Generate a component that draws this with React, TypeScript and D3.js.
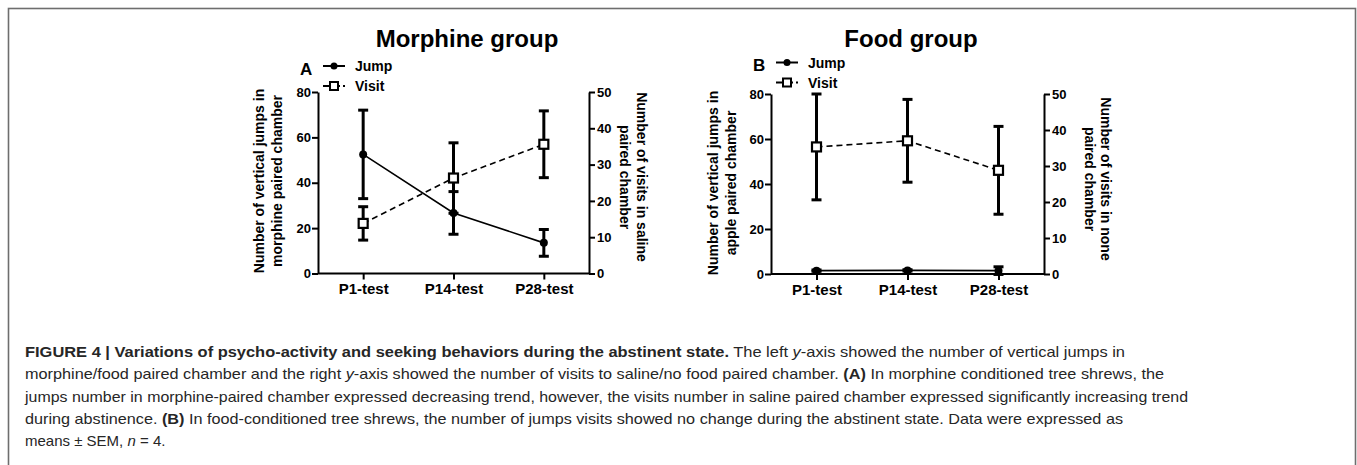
import React, { useRef, useEffect } from "react";
import * as d3 from "d3";

// data
const categories = ["P1-test", "P14-test", "P28-test"];
const leftTicks = [0, 20, 40, 60, 80];
const rightTicks = [0, 10, 20, 30, 40, 50];

const morphineJump = [52.5, 26.7, 13.5];
const morphineJumpSem = [19.5, 9.4, 5.9];
const morphineVisit = [13.8, 26.3, 35.6];
const morphineVisitSem = [4.6, 9.7, 9.2];

const foodJump = [1.5, 1.6, 1.5];
const foodJumpSem = [0.3, 0.3, 1.7];
const foodVisit = [35.3, 37.0, 28.8];
const foodVisitSem = [14.7, 11.5, 12.2];

const FONT = "'Liberation Sans', Arial, Helvetica, sans-serif";
const CAP_FONT = "'Liberation Sans', Arial, sans-serif";

const panels = [
  {
    title: "Morphine group", letter: "A",
    left: 318, right: 589, top: 92, bottom: 273.5,
    titleX: 467, legendY: 66,
    leftLabel: ["Number of vertical jumps in", "morphine paired chamber"],
    rightLabel: ["Number of visits in saline", "paired chamber"],
    lx: [264, 282], rx: [637, 620], labelY: 181,
    jump: morphineJump, jumpSem: morphineJumpSem,
    visit: morphineVisit, visitSem: morphineVisitSem,
  },
  {
    title: "Food group", letter: "B",
    left: 771, right: 1044, top: 94, bottom: 274,
    titleX: 911, legendY: 62.5,
    leftLabel: ["Number of vertical jumps in", "apple paired chamber"],
    rightLabel: ["Number of visits in none", "paired chamber"],
    lx: [718, 736], rx: [1101, 1085], labelY: 183,
    jump: foodJump, jumpSem: foodJumpSem,
    visit: foodVisit, visitSem: foodVisitSem,
  },
];

const captionLines = [
  [["b", "FIGURE 4 | Variations of psycho-activity and seeking behaviors during the abstinent state."], ["n", " The left "], ["i", "y"], ["n", "-axis showed the number of vertical jumps in"]],
  [["n", "morphine/food paired chamber and the right "], ["i", "y"], ["n", "-axis showed the number of visits to saline/no food paired chamber. "], ["b", "(A)"], ["n", " In morphine conditioned tree shrews, the"]],
  [["n", "jumps number in morphine-paired chamber expressed decreasing trend, however, the visits number in saline paired chamber expressed significantly increasing trend"]],
  [["n", "during abstinence. "], ["b", "(B)"], ["n", " In food-conditioned tree shrews, the number of jumps visits showed no change during the abstinent state. Data were expressed as"]],
  [["n", "means \u00b1 SEM, "], ["i", "n"], ["n", " = 4."]],
];
const captionEnds = [1125, 1164, 1188, 1123, null];

const App = () => {
  const svgRef = useRef();

  useEffect(() => {
    const svg = d3.select(svgRef.current);
    svg.selectAll("*").remove();

    // frame
    svg.append("rect")
      .attr("x", 8.5).attr("y", 8.5)
      .attr("width", 1347).attr("height", 470)
      .attr("fill", "none").attr("stroke", "#6e6e6e").attr("stroke-width", 1.6);

    panels.forEach((p) => {
      const g = svg.append("g");
      const x = d3.scalePoint().domain(categories).range([p.left, p.right]).padding(0.5);
      const yL = d3.scaleLinear().domain([0, 80]).range([p.bottom, p.top]);
      const yR = d3.scaleLinear().domain([0, 50]).range([p.bottom, p.top]);

      // title + letter
      g.append("text").attr("x", p.titleX).attr("y", 47)
        .attr("text-anchor", "middle").style("font-family", FONT)
        .style("font-weight", "bold").style("font-size", "24px").text(p.title);
      g.append("text").attr("x", p.left - 18).attr("y", p.legendY + 8.5)
        .style("font-family", FONT).style("font-weight", "bold")
        .style("font-size", "17px").text(p.letter);

      // legend
      const lgx = p.left + 5;
      const lg = g.append("g");
      lg.append("line").attr("x1", lgx).attr("x2", lgx + 22)
        .attr("y1", p.legendY).attr("y2", p.legendY)
        .attr("stroke", "#000").attr("stroke-width", 2);
      lg.append("circle").attr("cx", lgx + 11).attr("cy", p.legendY).attr("r", 3.5);
      lg.append("text").attr("x", lgx + 32).attr("y", p.legendY + 5)
        .style("font-family", FONT).style("font-weight", "bold")
        .style("font-size", "14px").text("Jump");
      const vy = p.legendY + 20;
      lg.append("line").attr("x1", lgx).attr("x2", lgx + 22)
        .attr("y1", vy).attr("y2", vy)
        .attr("stroke", "#000").attr("stroke-width", 2).attr("stroke-dasharray", "7,3");
      lg.append("rect").attr("x", lgx + 7).attr("y", vy - 4).attr("width", 8).attr("height", 8)
        .attr("fill", "#fff").attr("stroke", "#000").attr("stroke-width", 2);
      lg.append("text").attr("x", lgx + 32).attr("y", vy + 5)
        .style("font-family", FONT).style("font-weight", "bold")
        .style("font-size", "14px").text("Visit");

      // axes
      const axL = g.append("g").attr("transform", `translate(${p.left},0)`)
        .call(d3.axisLeft(yL).tickValues(leftTicks).tickSize(6).tickSizeOuter(0));
      const axR = g.append("g").attr("transform", `translate(${p.right},0)`)
        .call(d3.axisRight(yR).tickValues(rightTicks).tickSize(6).tickSizeOuter(0));
      const axX = g.append("g").attr("transform", `translate(0,${p.bottom})`)
        .call(d3.axisBottom(x).tickSize(6).tickSizeOuter(0));
      axX.select(".domain").attr("d", `M${p.left},0H${p.right}`);
      [axL, axR, axX].forEach((a) => {
        a.selectAll("path, line").attr("stroke", "#000").attr("stroke-width", 2);
        a.selectAll("text").style("font-family", FONT).style("font-weight", "bold")
          .attr("fill", "#000");
      });
      axL.selectAll("text").style("font-size", "13px").attr("x", -7);
      axR.selectAll("text").style("font-size", "13px").attr("x", 8);
      axX.selectAll("text").style("font-size", "15px").attr("y", 10);

      // axis titles
      p.leftLabel.forEach((t, i) => {
        g.append("text").attr("transform", `translate(${p.lx[i]},${p.labelY}) rotate(-90)`)
          .attr("text-anchor", "middle").style("font-family", FONT)
          .style("font-weight", "bold").style("font-size", "14px").text(t);
      });
      p.rightLabel.forEach((t, i) => {
        g.append("text").attr("transform", `translate(${p.rx[i]},${p.labelY - 4}) rotate(90)`)
          .attr("text-anchor", "middle").style("font-family", FONT)
          .style("font-weight", "bold").style("font-size", "14px").text(t);
      });

      const series = [
        { v: p.jump, s: p.jumpSem, y: yL, dash: null },
        { v: p.visit, s: p.visitSem, y: yR, dash: "6,4" },
      ];

      // error bars
      series.forEach((sr) => {
        sr.v.forEach((v, i) => {
          const cx = x(categories[i]);
          const y1 = sr.y(v + sr.s[i]);
          const y2 = sr.y(v - sr.s[i]);
          g.append("line").attr("x1", cx).attr("x2", cx).attr("y1", y1).attr("y2", y2)
            .attr("stroke", "#000").attr("stroke-width", 3);
          [y1, y2].forEach((yy) => {
            g.append("line").attr("x1", cx - 5).attr("x2", cx + 5).attr("y1", yy).attr("y2", yy)
              .attr("stroke", "#000").attr("stroke-width", 3);
          });
        });
      });

      // lines
      series.forEach((sr) => {
        const line = d3.line()
          .x((d, i) => x(categories[i]))
          .y((d) => sr.y(d));
        g.append("path").datum(sr.v).attr("d", line)
          .attr("fill", "none").attr("stroke", "#000").attr("stroke-width", 1.6)
          .attr("stroke-dasharray", sr.dash);
      });

      // markers
      p.jump.forEach((v, i) => {
        g.append("circle").attr("cx", x(categories[i])).attr("cy", yL(v)).attr("r", 4);
      });
      p.visit.forEach((v, i) => {
        g.append("rect").attr("x", x(categories[i]) - 4.5).attr("y", yR(v) - 4.5)
          .attr("width", 9).attr("height", 9)
          .attr("fill", "#fff").attr("stroke", "#000").attr("stroke-width", 2.2);
      });
    });

    // caption
    captionLines.forEach((parts, li) => {
      const t = svg.append("text").attr("x", 25).attr("y", 357 + li * 22.3)
        .style("font-family", CAP_FONT).style("font-size", "15px").attr("fill", "#262626");
      if (captionEnds[li]) {
        t.attr("textLength", captionEnds[li] - 25).attr("lengthAdjust", "spacingAndGlyphs");
      }
      parts.forEach(([k, s]) => {
        t.append("tspan")
          .style("font-weight", k === "b" ? "bold" : "normal")
          .style("font-style", k === "i" ? "italic" : "normal")
          .text(s);
      });
    });
  }, []);

  return (
    <div style={{ position: "absolute", left: 0, top: 0 }}>
      <svg ref={svgRef} width={1357} height={465} style={{ display: "block", background: "#fff" }}></svg>
    </div>
  );
};

export default App;
